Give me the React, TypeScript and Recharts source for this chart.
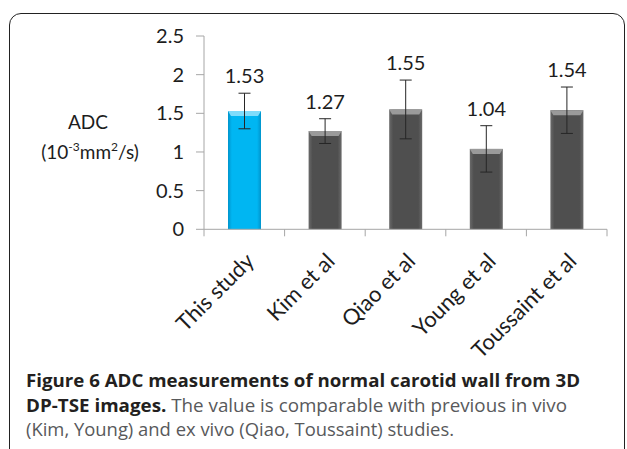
import React from 'react';
import { BarChart, Bar, XAxis, YAxis, ErrorBar, LabelList, Label } from 'recharts';

const studies = ['This study', 'Kim et al', 'Qiao et al', 'Young et al', 'Toussaint et al'];
const adcMean = [1.53, 1.27, 1.55, 1.04, 1.54];
const adcSd = [0.23, 0.16, 0.38, 0.3, 0.3];
const yTicks = [0, 0.5, 1, 1.5, 2, 2.5];

const data = studies.map((name, i) => ({ name, adc: adcMean[i], sd: adcSd[i] }));

const FONT = 'Lato, "Liberation Sans", sans-serif';
const AXIS_GREY = '#A6A6A6';
const INK = '#1d1d1d';

// ── Bar shape with the Excel-ish bevel ────────────────────────────────────────

function BevelBar(props: any) {
  const { x, y, width, height, index } = props;
  if (!height || height <= 0) return null;
  const id = index === 0 ? 'blueGrad' : 'greyGrad';
  const top = index === 0 ? '#7fdcfb' : '#9a9a9a';
  const b = 5;
  return (
    <g>
      <rect x={x} y={y} width={width} height={height} fill={`url(#${id})`} />
      <polygon
        points={`${x},${y} ${x + width},${y} ${x + width - 3},${y + b} ${x + 3},${y + b}`}
        fill={top}
      />
    </g>
  );
}

// ── Value labels sitting above the error bars ─────────────────────────────────

function ValueLabel(props: any) {
  const vb = props.viewBox ?? props;
  const { x, y, width, height } = vb;
  const value = Number(props.value);
  const idx = props.index ?? adcMean.indexOf(value);
  const pxPerUnit = height / value;
  const errTop = y - adcSd[idx] * pxPerUnit;
  return (
    <text
      x={x + width / 2}
      y={errTop - 10}
      textAnchor="middle"
      fontFamily={FONT}
      fontSize={20}
      fill={INK}
    >
      {value.toFixed(2)}
    </text>
  );
}

// ── Category ticks: boundary marks + rotated labels ───────────────────────────

function CategoryTick(props: any) {
  const { x, y, payload, index } = props;
  const half = payload?.offset ?? 40.3;
  const last = index === studies.length - 1;
  const ly = y + 22;
  return (
    <g>
      <line x1={x - half} x2={x - half} y1={y} y2={y + 7} stroke={AXIS_GREY} />
      {last && <line x1={x + half} x2={x + half} y1={y} y2={y + 7} stroke={AXIS_GREY} />}
      <text
        x={x}
        y={ly}
        dy="0.72em"
        textAnchor="end"
        transform={`rotate(-45 ${x} ${ly})`}
        fontFamily={FONT}
        fontSize={22}
        fill={INK}
      >
        {payload.value}
      </text>
    </g>
  );
}

function YTitle() {
  return (
    <g fontFamily={FONT} fontSize={19} fill={INK}>
      <text x={88} y={128.5} textAnchor="middle">ADC</text>
      <text x={90} y={158.5} textAnchor="middle">
        (10<tspan fontSize={12} dy={-8}>-3</tspan>
        <tspan dy={8}>mm</tspan>
        <tspan fontSize={12} dy={-8}>2</tspan>
        <tspan dy={8}>/s)</tspan>
      </text>
    </g>
  );
}

const CAPTION_BOLD = '#231F20';
const CAPTION_TEXT = '#58595B';
const CAPTION_FONT = '"Open Sans", "Noto Sans", sans-serif';

export default function App() {
  return (
    <div style={{ position: 'absolute', left: 0, top: 0, width: 627, height: 449, overflow: 'hidden', background: '#fff' }}>
      {/* figure frame */}
      <div
        style={{
          position: 'absolute', left: 9, top: 13, width: 616, height: 480,
          border: '1.5px solid #222', borderRadius: 12, boxSizing: 'border-box',
        }}
      />

      <div style={{ position: 'absolute', left: 0, top: 0 }}>
        <BarChart width={627} height={400} data={data} margin={{ top: 36, right: 20, left: 0, bottom: 100 }}>
          <defs>
            <linearGradient id="blueGrad" x1="0" y1="0" x2="1" y2="0">
              <stop offset="0%" stopColor="#0094cc" />
              <stop offset="12%" stopColor="#00b6f2" />
              <stop offset="88%" stopColor="#00b6f2" />
              <stop offset="100%" stopColor="#0094cc" />
            </linearGradient>
            <linearGradient id="greyGrad" x1="0" y1="0" x2="1" y2="0">
              <stop offset="0%" stopColor="#6a6a6a" />
              <stop offset="12%" stopColor="#4f4f4f" />
              <stop offset="88%" stopColor="#4f4f4f" />
              <stop offset="100%" stopColor="#6a6a6a" />
            </linearGradient>
          </defs>
          <XAxis
            dataKey="name"
            height={70.7}
            interval={0}
            tickLine={false}
            tickSize={0}
            tickMargin={0}
            axisLine={{ stroke: AXIS_GREY }}
            tick={<CategoryTick />}
          />
          <YAxis
            width={204}
            domain={[0, 2.5]}
            ticks={yTicks}
            tickSize={8}
            tickMargin={12}
            axisLine={{ stroke: AXIS_GREY }}
            tickLine={{ stroke: AXIS_GREY }}
            tick={{ fontSize: 20, fill: INK, fontFamily: FONT }}
          >
            <Label content={<YTitle />} />
          </YAxis>
          <Bar dataKey="adc" barSize={33} shape={<BevelBar />} isAnimationActive={false}>
            <ErrorBar dataKey="sd" width={6} stroke="#262626" strokeWidth={1} direction="y" isAnimationActive={false} />
            <LabelList dataKey="adc" content={<ValueLabel />} />
          </Bar>
        </BarChart>
      </div>

      {/* caption */}
      <svg width={627} height={449} style={{ position: 'absolute', left: 0, top: 0, pointerEvents: 'none' }}>
        <text x={26} y={386.7} fontFamily={CAPTION_FONT} fontSize={18.5} fontWeight={700} fill={CAPTION_BOLD}
          textLength={554} lengthAdjust="spacingAndGlyphs">
          Figure 6 ADC measurements of normal carotid wall from 3D
        </text>
        <text x={26} y={411.7} fontFamily={CAPTION_FONT} fontSize={18.5} fill={CAPTION_TEXT}
          textLength={541} lengthAdjust="spacingAndGlyphs">
          <tspan fontWeight={700} fill={CAPTION_BOLD}>DP-TSE images.</tspan> The value is comparable with previous in vivo
        </text>
        <text x={26} y={436.3} fontFamily={CAPTION_FONT} fontSize={18.5} fill={CAPTION_TEXT}
          textLength={428} lengthAdjust="spacingAndGlyphs">
          (Kim, Young) and ex vivo (Qiao, Toussaint) studies.
        </text>
      </svg>
    </div>
  );
}
